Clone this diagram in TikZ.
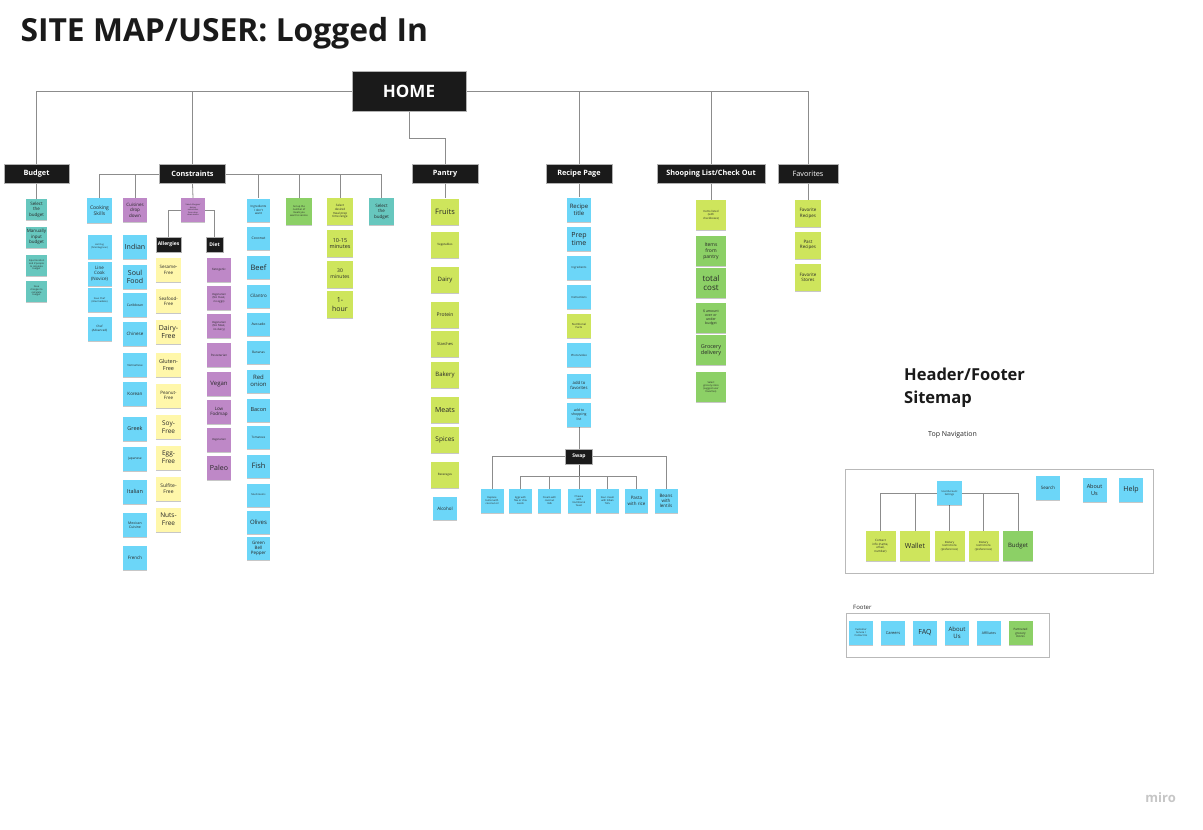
\documentclass[tikz,border=0pt]{standalone}
\usepackage{fontspec}
\setmainfont{Open Sans}
\usetikzlibrary{shadows}
\pgfdeclarelayer{bg}
\pgfsetlayers{bg,main}
\definecolor{cblue}{RGB}{108,214,248}
\definecolor{cteal}{RGB}{103,199,190}
\definecolor{cpurp}{RGB}{190,136,199}
\definecolor{cyel}{RGB}{255,247,170}
\definecolor{clime}{RGB}{206,229,92}
\definecolor{cgreen}{RGB}{140,208,102}
\definecolor{cblk}{RGB}{26,26,26}
\definecolor{cline}{RGB}{140,140,140}
\definecolor{cink}{RGB}{40,40,40}
\begin{document}
\begin{tikzpicture}[x=1pt,y=-1pt,
  fs/.style={font=\fontsize{#1}{\fpeval{1.2*#1}}\selectfont},
  stk/.style={minimum width=24, minimum height=24, inner sep=0.5, align=center, text=cink,
    drop shadow={shadow xshift=0pt, shadow yshift=-1.2pt, opacity=0.22, fill=black}},
  bl/.style={stk, fill=cblue}, tl/.style={stk, fill=cteal}, pu/.style={stk, fill=cpurp},
  ye/.style={stk, fill=cyel}, li/.style={stk, fill=clime}, gr/.style={stk, fill=cgreen},
  blk/.style={fill=cblk, draw=gray!60, line width=0.5, text=white, inner sep=0, align=center},
  ln/.style={draw=cline, line width=0.8},
  frame/.style={draw=gray!55, line width=0.9, inner sep=0, anchor=north west}
]
\useasboundingbox (0,0) rectangle (1203,830);

% title
\node[anchor=base west, font=\bfseries\fontsize{31.8}{38}\selectfont, text=cblk] (title) at (17,41) {SITE MAP/USER: Logged In};

% level 0/1
\node[blk, minimum width=114, minimum height=40, font=\bfseries\fontsize{17}{20}\selectfont] (home) at (409,91) {HOME};
\node[blk, minimum width=65, minimum height=19, font=\bfseries\fontsize{7.3}{9}\selectfont] (budget) at (36.5,174) {Budget};
\node[blk, minimum width=66, minimum height=19, font=\bfseries\fontsize{7.3}{9}\selectfont] (cons) at (192.5,174) {Constraints};
\node[blk, minimum width=66, minimum height=19, font=\bfseries\fontsize{7.3}{9}\selectfont] (pantry) at (445,174) {Pantry};
\node[blk, minimum width=66, minimum height=19, font=\bfseries\fontsize{7.3}{9}\selectfont] (recipe) at (579,174) {Recipe Page};
\node[blk, minimum width=108, minimum height=19, font=\bfseries\fontsize{7.3}{9}\selectfont] (shop) at (711,174) {Shooping List/Check Out};
\node[blk, minimum width=60, minimum height=19, font=\fontsize{7.3}{9}\selectfont] (fav) at (808,174) {Favorites};

% Budget column
\node[tl, minimum width=21, minimum height=21, fs=4.5] (bu1) at (36.5,209.5) {Select\\the\\budget};
\node[tl, minimum width=21, minimum height=21, fs=4.5] (bu2) at (36.5,237) {Manually\\input\\budget};
\node[tl, minimum width=21, minimum height=21, fs=2.4] (bu3) at (36.5,265) {Input location\\and \# people\\to calculate\\budget};
\node[tl, minimum width=21, minimum height=21, fs=2.4] (bu4) at (36.5,291) {Save\\changes to\\calculate\\budget};

% Cooking skills
\node[bl, minimum width=25, minimum height=25, fs=5] (ck0) at (99.5,210.5) {Cooking\\Skills};
\node[bl, fs=2.3] (ck1) at (99.5,246.5) {Hot Dog\\(Total Beginner)};
\node[bl, fs=4.5] (ck2) at (99.5,273.5) {Line\\Cook\\(Novice)};
\node[bl, fs=2.4] (ck3) at (99.5,300) {Sous Chef\\(Intermediate)};
\node[bl, fs=3] (ck4) at (99.5,328.5) {Chef\\(Advanced)};

% Cuisines
\node[pu, fs=4.5] (cu0) at (135,210) {Cuisines\\drop\\down};
\node[bl, fs=7] (cu1) at (135,247) {Indian};
\node[bl, fs=7] (cu2) at (135,277) {Soul\\Food};
\node[bl, fs=3.4] (cu3) at (135,305) {Caribbean};
\node[bl, fs=4.5] (cu4) at (135,333.5) {Chinese};
\node[bl, fs=2.8] (cu5) at (135,365) {Vietnamese};
\node[bl, fs=4.5] (cu6) at (135,394) {Korean};
\node[bl, fs=5.5] (cu7) at (135,428.5) {Greek};
\node[bl, fs=3.2] (cu8) at (135,458.5) {Japanese};
\node[bl, fs=5.5] (cu9) at (135,491.5) {Italian};
\node[bl, fs=3.5] (cu10) at (135,525) {Mexican\\Cuisine};
\node[bl, fs=4.5] (cu11) at (135,557.5) {French};

% Allergies / diet
\node[pu, fs=2] (ad0) at (193,210) {Select Allergies/\\dietary\\restrictions\\from drop\\down menu};
\node[blk, minimum width=25, minimum height=15, font=\bfseries\fontsize{5}{6}\selectfont] (allergies) at (168.5,244.5) {Allergies};
\node[blk, minimum width=17, minimum height=15, font=\bfseries\fontsize{5}{6}\selectfont] (diet) at (214.5,244.5) {Diet};
\node[ye, minimum width=25, fs=4.5] (al1) at (168.5,270) {Sesame-\\Free};
\node[ye, minimum width=25, fs=4.5] (al2) at (168.5,301) {Seafood-\\Free};
\node[ye, minimum width=25, fs=7] (al3) at (168.5,332) {Dairy-\\Free};
\node[ye, minimum width=25, fs=5.5] (al4) at (168.5,365) {Gluten-\\Free};
\node[ye, minimum width=25, fs=4.5] (al5) at (168.5,395.5) {Peanut-\\Free};
\node[ye, minimum width=25, fs=6.5] (al6) at (168.5,427) {Soy-\\Free};
\node[ye, minimum width=25, fs=6.5] (al7) at (168.5,457.5) {Egg-\\Free};
\node[ye, minimum width=25, fs=5] (al8) at (168.5,488.5) {Sulfite-\\Free};
\node[ye, minimum width=25, fs=6.5] (al9) at (168.5,519.5) {Nuts-\\Free};
\node[pu, fs=3] (di1) at (219,270) {Ketogenic};
\node[pu, fs=2.8] (di2) at (219,298) {Vegetarian\\(No meat,\\no eggs)};
\node[pu, fs=2.8] (di3) at (219,326) {Vegetarian\\(No Meat,\\no dairy)};
\node[pu, fs=3] (di4) at (219,355) {Pescetarian};
\node[pu, fs=6] (di5) at (219,384) {Vegan};
\node[pu, fs=4.5] (di6) at (219,412) {Low\\Fodmap};
\node[pu, fs=2.8] (di7) at (219,440) {Vegetarian};
\node[pu, fs=7] (di8) at (219,468) {Paleo};

% Ingredients
\node[bl, minimum width=23, minimum height=23, fs=3] (in0) at (258.5,210) {Ingredients\\I don't\\want};
\node[bl, minimum width=23, minimum height=23, fs=3.5] (in1) at (258.5,238.5) {Coconut};
\node[bl, minimum width=23, minimum height=23, fs=7.5] (in2) at (258.5,267.5) {Beef};
\node[bl, minimum width=23, minimum height=23, fs=4.5] (in3) at (258.5,296) {Cilantro};
\node[bl, minimum width=23, minimum height=23, fs=3.5] (in4) at (258.5,324.5) {Avocado};
\node[bl, minimum width=23, minimum height=23, fs=3.2] (in5) at (258.5,352.5) {Bananas};
\node[bl, minimum width=23, minimum height=23, fs=6] (in6) at (258.5,381) {Red\\onion};
\node[bl, minimum width=23, minimum height=23, fs=5.5] (in7) at (258.5,410) {Bacon};
\node[bl, minimum width=23, minimum height=23, fs=3] (in8) at (258.5,437.5) {Tomatoes};
\node[bl, minimum width=23, minimum height=23, fs=7.5] (in9) at (258.5,466) {Fish};
\node[bl, minimum width=23, minimum height=23, fs=2.5] (in10) at (258.5,495) {Mushrooms};
\node[bl, minimum width=23, minimum height=23, fs=6] (in11) at (258.5,522.5) {Olives};
\node[bl, minimum width=23, minimum height=23, fs=4.5] (in12) at (258.5,548.5) {Green\\Bell\\Pepper};

% meals / prep time / budget
\node[gr, minimum width=26, minimum height=27, fs=2.5] (ml) at (299,211.5) {Set up the\\number of\\meals you\\want to service};
\node[li, minimum width=26, minimum height=27, fs=3] (pt0) at (340,211.5) {Select\\desired\\meal prep\\time range};
\node[li, minimum width=26, minimum height=27, fs=5.5] (pt1) at (340,243.5) {10-15\\minutes};
\node[li, minimum width=26, minimum height=27, fs=5] (pt2) at (340,274) {30\\minutes};
\node[li, minimum width=26, minimum height=27, fs=7] (pt3) at (340,304.5) {1-\\hour};
\node[tl, minimum width=25, minimum height=27, fs=4.5] (sb) at (381.5,211.5) {Select\\the\\budget};

% Pantry
\node[li, minimum width=28, minimum height=26, fs=7.5] (pa1) at (445,211.5) {Fruits};
\node[li, minimum width=28, minimum height=26, fs=3] (pa2) at (445,245) {Vegetables};
\node[li, minimum width=28, minimum height=26, fs=6] (pa3) at (445,280) {Dairy};
\node[li, minimum width=28, minimum height=26, fs=5] (pa4) at (445,315) {Protein};
\node[li, minimum width=28, minimum height=26, fs=4] (pa5) at (445,344) {Starches};
\node[li, minimum width=28, minimum height=26, fs=6] (pa6) at (445,375) {Bakery};
\node[li, minimum width=28, minimum height=26, fs=7] (pa7) at (445,410) {Meats};
\node[li, minimum width=28, minimum height=26, fs=6.5] (pa8) at (445,440) {Spices};
\node[li, minimum width=28, minimum height=26, fs=3] (pa9) at (445,475) {Beverages};
\node[bl, minimum width=24, minimum height=23, fs=4.5] (pa10) at (445,508.5) {Alcohol};

% Recipe page
\node[bl, fs=6] (re1) at (579,209.5) {Recipe\\title};
\node[bl, fs=7] (re2) at (579,239) {Prep\\time};
\node[bl, fs=2.8] (re3) at (579,268) {Ingredients};
\node[bl, fs=2.8] (re4) at (579,297) {Instructions};
\node[li, fs=2.8] (re5) at (579,326) {Nutritional\\Facts};
\node[bl, fs=2.8] (re6) at (579,355) {Photo/video};
\node[bl, fs=4.2] (re7) at (579,385.5) {add to\\favorites};
\node[bl, fs=3.5] (re8) at (579,414.5) {add to\\shopping\\list};
\node[blk, minimum width=27, minimum height=15, font=\bfseries\fontsize{5}{6}\selectfont] (swap) at (579,456.5) {Swap};
\node[bl, minimum width=23, fs=2.5] (sw1) at (492,501) {Replace\\butter with\\coconut oil};
\node[bl, minimum width=23, fs=2.5] (sw2) at (520.5,501) {Eggs with\\flax or chia\\seeds};
\node[bl, minimum width=23, fs=2.5] (sw3) at (549.5,501) {Cream with\\coconut\\milk};
\node[bl, minimum width=23, fs=2.5] (sw4) at (579,501) {Cheese\\with\\Nutritional\\Yeast};
\node[bl, minimum width=23, fs=2.5] (sw5) at (607.5,501) {Sour cream\\with Silken\\Tofu};
\node[bl, minimum width=23, fs=4.5] (sw6) at (636.5,501) {Pasta\\with rice};
\node[bl, minimum width=23, fs=4.5] (sw7) at (666,501) {Beans\\with\\lentils};

% Shopping list
\node[li, minimum width=30, minimum height=30, fs=2.8] (sh1) at (711,215) {Items listed\\(with\\checkboxes)};
\node[gr, minimum width=30, minimum height=30, fs=5] (sh2) at (711,251) {Items\\from\\pantry};
\node[gr, minimum width=30, minimum height=30, fs=8] (sh3) at (711,283) {total\\cost};
\node[gr, minimum width=30, minimum height=30, fs=3.5] (sh4) at (711,317.5) {\$ amount\\over or\\under\\budget};
\node[gr, minimum width=30, minimum height=30, fs=5.5] (sh5) at (711,350) {Grocery\\delivery};
\node[gr, minimum width=30, minimum height=30, fs=2.5] (sh6) at (711,387) {Select\\grocery store\\(suggest user\\favorites)};

% Favorites
\node[li, minimum width=26, minimum height=27, fs=4.5] (fv1) at (808,213.5) {Favorite\\Recipes};
\node[li, minimum width=26, minimum height=27, fs=4.5] (fv2) at (808,245) {Past\\Recipes};
\node[li, minimum width=26, minimum height=27, fs=4.5] (fv3) at (808,277.5) {Favorite\\Stores};

% Header / footer
\node[anchor=north west, align=left, inner sep=0, font=\bfseries\fontsize{16.5}{23}\selectfont, text=cblk] (hft) at (904,368) {Header/Footer\\Sitemap};
\node[anchor=base west, inner sep=0, fs=7, text=cink] (topnav) at (928,436) {Top Navigation};
\node[frame, minimum width=308, minimum height=104] (hbox) at (845,469) {};
\node[bl, minimum width=25, fs=2.5] (hs) at (949.5,493) {User/Account\\Settings};
\node[li, minimum width=30, minimum height=30, fs=3] (h1) at (880.5,546) {Contact\\info (name,\\email,\\number)};
\node[li, minimum width=30, minimum height=30, fs=7] (h2) at (915,546) {Wallet};
\node[li, minimum width=30, minimum height=30, fs=2.8] (h3) at (949.5,546) {Dietary\\restrictions\\(preferences)};
\node[li, minimum width=30, minimum height=30, fs=2.8] (h4) at (983.5,546) {Dietary\\restrictions\\(preferences)};
\node[gr, minimum width=30, minimum height=30, fs=6] (h5) at (1018,546) {Budget};
\node[bl, fs=4.5] (search) at (1048,488) {Search};
\node[bl, fs=5.5] (about) at (1094.5,490) {About\\Us};
\node[bl, fs=7] (help) at (1131,490) {Help};

\node[anchor=base west, inner sep=0, fs=6, text=cink] (foot) at (853,609) {Footer};
\node[frame, minimum width=203, minimum height=44] (fbox) at (846,613) {};
\node[bl, fs=2.5] (f1) at (861,633) {Customer\\Service /\\Contact Us};
\node[bl, fs=4] (f2) at (893,633) {Careers};
\node[bl, fs=7] (f3) at (925,633) {FAQ};
\node[bl, fs=6] (f4) at (957,633) {About\\Us};
\node[bl, fs=3.5] (f5) at (989,633) {Affiliates};
\node[gr, fs=3] (f6) at (1020.5,633) {Partnered\\grocery\\stores};

\node[anchor=base east, inner sep=0, text=gray!45, font=\bfseries\fontsize{13}{13}\selectfont] (miro) at (1176,802) {miro};

% connectors
\begin{pgfonlayer}{bg}
\fill[white] (0,0) rectangle (1203,830);
\draw[ln] (home.west) -| (budget.north);
\draw[ln] (home.west) -| (cons.north);
\draw[ln] (home.east) -| (recipe.north);
\draw[ln] (home.east) -| (shop.north);
\draw[ln] (home.east) -| (fav.north);
\draw[ln] (home.south) -- ++(0,27) -| (pantry.north);
\draw[ln] (budget.south) -- (bu1.north);
\draw[ln] (pantry.south) -- (pa1.north);
\draw[ln] (recipe.south) -- (re1.north);
\draw[ln] (shop.south) -- (sh1.north);
\draw[ln] (fav.south) -- (fv1.north);
\draw[ln] (cons.west) -| (ck0.north);
\draw[ln] (cons.west) -| (cu0.north);
\draw[ln] (cons.south) -- (ad0.north);
\draw[ln] (cons.east) -| (in0.north);
\draw[ln] (cons.east) -| (ml.north);
\draw[ln] (cons.east) -| (pt0.north);
\draw[ln] (cons.east) -| (sb.north);
\draw[ln] (ad0.west) -| (allergies.north);
\draw[ln] (ad0.east) -| (diet.north);
\draw[ln] (re8.south) -- (swap.north);
\draw[ln] (swap.west) -| (sw1.north);
\draw[ln] (swap.east) -| (sw7.north);
\coordinate (sj) at (579,476);
\draw[ln, draw=gray!80!black] (swap.south) -- (sj);
\draw[ln] (sj) -| (sw2.north);
\draw[ln] (sj) -| (sw3.north);
\draw[ln] (sj) -- (sw4.north);
\draw[ln] (sj) -| (sw5.north);
\draw[ln] (sj) -| (sw6.north);
\draw[ln] (hs.west) -| (h1.north);
\draw[ln] (hs.west) -| (h2.north);
\draw[ln] (hs.south) -- (h3.north);
\draw[ln] (hs.east) -| (h4.north);
\draw[ln] (hs.east) -| (h5.north);
\end{pgfonlayer}
\end{tikzpicture}
\end{document}
